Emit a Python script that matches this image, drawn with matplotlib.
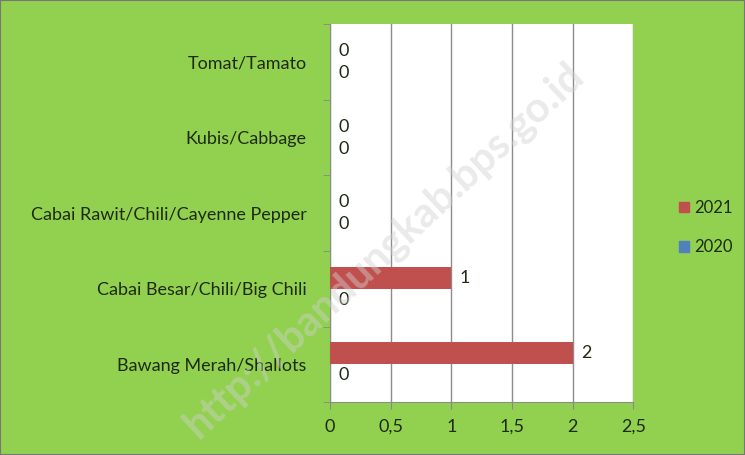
import numpy as np
import matplotlib.pyplot as plt
from matplotlib.patches import Patch

categories = ['Bawang Merah/Shallots', 'Cabai Besar/Chili/Big Chili',
              'Cabai Rawit/Chili/Cayenne Pepper', 'Kubis/Cabbage', 'Tomat/Tamato']
val_2021 = [2, 1, 0, 0, 0]
val_2020 = [0, 0, 0, 0, 0]
xticks = [0, 0.5, 1, 1.5, 2, 2.5]
xtick_labels = ['0', '0,5', '1', '1,5', '2', '2,5']

plt.rcParams['font.family'] = ['Lato', 'DejaVu Sans']
green = '#92D050'
red = '#C0504D'
blue = '#4F81BD'
txt = '#1E2B12'
fs = 13

fig = plt.figure(figsize=(7.45, 4.55), dpi=100, facecolor=green)
ax = fig.add_axes([0.443, 0.116, 0.407, 0.831])
ax.set_facecolor('white')

y = np.arange(len(categories))
h = 0.29
ax.barh(y + h / 2, val_2021, height=h, color=red, zorder=3)
ax.barh(y - h / 2, val_2020, height=h, color=blue, zorder=3)

for yi, v in zip(y, val_2021):
    ax.text(v + 0.07, yi + h / 2, str(v), va='center', ha='left', fontsize=fs, color=txt, zorder=4)
for yi, v in zip(y, val_2020):
    ax.text(v + 0.07, yi - h / 2, str(v), va='center', ha='left', fontsize=fs, color=txt, zorder=4)

ax.set_xlim(0, 2.5)
ax.set_ylim(-0.5, len(categories) - 0.5)
ax.set_xticks(xticks)
ax.set_xticklabels(xtick_labels, fontsize=fs, color=txt)
ax.set_yticks(y)
ax.set_yticklabels(categories, fontsize=fs, color=txt)
ax.set_yticks(np.arange(-0.5, len(categories), 1), minor=True)
ax.tick_params(axis='y', which='major', length=0, pad=17)
ax.tick_params(axis='y', which='minor', length=5, color='#888888')
ax.tick_params(axis='x', length=5, color='#888888', pad=7)
ax.grid(axis='x', color='#8c8c8c', linewidth=1, zorder=1)
for s in ['top', 'right']:
    ax.spines[s].set_visible(False)
for s in ['left', 'bottom']:
    ax.spines[s].set_color('#8c8c8c')

handles = [Patch(color=red, label='2021'), Patch(color=blue, label='2020')]
fig.legend(handles=handles, loc='center left', bbox_to_anchor=(0.912, 0.5), frameon=False,
           fontsize=12, handlelength=0.6, handleheight=0.6, handletextpad=0.3,
           labelspacing=1.4, labelcolor=txt, borderaxespad=0, borderpad=0)

# watermark
fig.text(0.515, 0.45, 'http://bandungkab.bps.go.id', rotation=43, ha='center', va='center',
         fontsize=30, fontweight='bold', color='#d0d0d0', alpha=0.45, zorder=10)

fig.patches.append(plt.Rectangle((0, 0), 1, 1, transform=fig.transFigure, fill=False,
                                 edgecolor='#777777', linewidth=1.5))
fig.savefig('out.png', dpi=100, facecolor=green)
